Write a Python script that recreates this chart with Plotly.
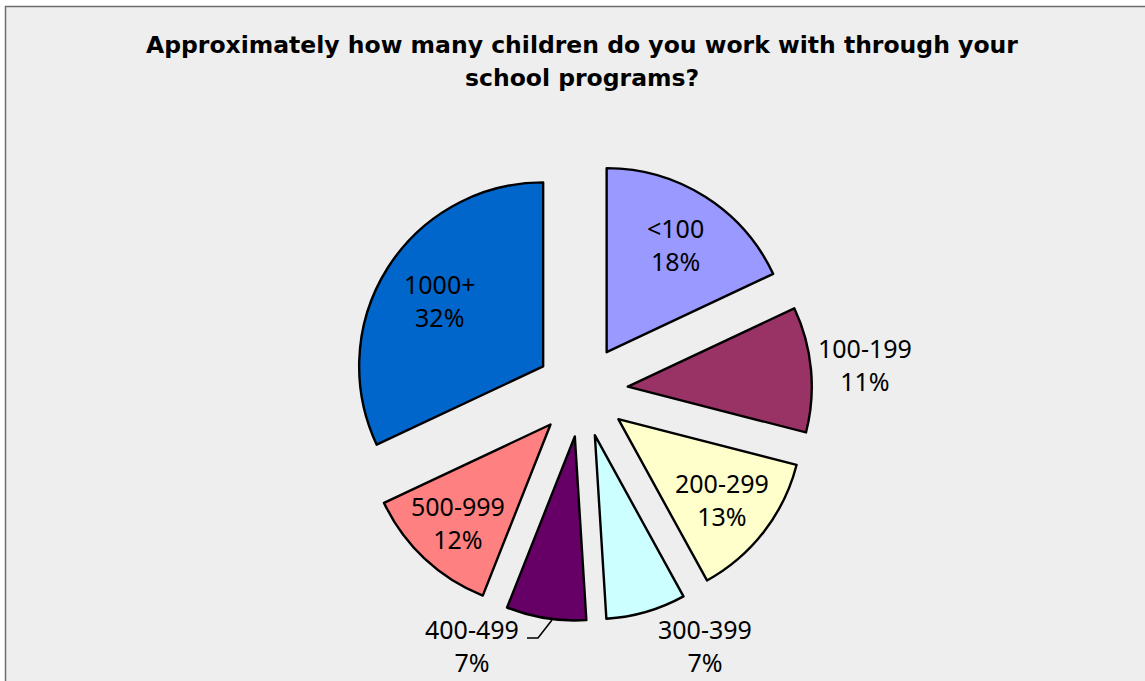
import math
import plotly.graph_objects as go

# Survey results: number of children reached through school programs
categories = ["<100", "100-199", "200-299", "300-399", "400-499", "500-999", "1000+"]
shares = [18, 11, 13, 7, 7, 12, 32]
colors = ["#9999FF", "#993366", "#FFFFCC", "#CCFFFF", "#660066", "#FF8080", "#0066CC"]

W, H = 1145, 681
CX, CY = 582, 391          # pie centre (px)
R = 184                    # pie radius (px)
PULL = 0.25
HALF = R * (1 + PULL)


def px(x):
    return x / W


def py(y):
    return 1 - y / H


fig = go.Figure(
    go.Pie(
        labels=categories,
        values=shares,
        sort=False,
        direction="clockwise",
        rotation=0,
        pull=[PULL] * len(shares),
        marker=dict(colors=colors, line=dict(color="#000000", width=2.4)),
        textinfo="none",
        hoverinfo="label+percent",
        showlegend=False,
        domain=dict(x=[px(CX - HALF), px(CX + HALF)], y=[py(CY + HALF), py(CY - HALF)]),
    )
)

# Label placement: radial distance from the pie centre along the slice's mid angle,
# or a fixed spot for the bottom labels that are shifted sideways.
label_radius = [174, 284, 177, None, None, 181, 168]
label_fixed = {3: (705, 645), 4: (472, 645)}

total = sum(shares)
cum = 0
annotations = []
for i, (cat, v) in enumerate(zip(categories, shares)):
    mid = (cum + v / 2) / total * 2 * math.pi
    cum += v
    if i in label_fixed:
        lx, ly = label_fixed[i]
    else:
        r = label_radius[i]
        lx = CX + r * math.sin(mid)
        ly = CY - r * math.cos(mid)
    pct = round(v / total * 100)
    annotations.append(dict(
        x=px(lx), y=py(ly), xref="paper", yref="paper",
        text=f"{cat.replace('<', '&lt;')}<br>{pct}%",
        showarrow=False, xanchor="center", yanchor="middle",
        font=dict(family="Noto Sans", size=25, color="#000000"),
    ))

title_lines = ["Approximately how many children do you work with through your",
               "school programs?"]
for k, line in enumerate(title_lines):
    annotations.append(dict(
        x=px(582), y=py(45 + 33 * k), xref="paper", yref="paper",
        text=line, showarrow=False, xanchor="center", yanchor="middle",
        font=dict(family="DejaVu Sans", size=23.5, color="#000000", weight="bold"),
    ))

shapes = [
    # chart area panel with its border
    dict(type="rect", xref="paper", yref="paper",
         x0=px(5.5), x1=1.2, y0=-0.2, y1=py(6.5),
         fillcolor="#EEEEEE", line=dict(color="#6E6E6E", width=1.5), layer="below"),
    # leader line for the 400-499 label
    dict(type="path", xref="paper", yref="paper",
         path=f"M {px(527)} {py(638)} L {px(538)} {py(638)} L {px(552)} {py(620)}",
         line=dict(color="#000000", width=1.6)),
]

fig.update_layout(
    width=W, height=H,
    margin=dict(l=0, r=0, t=0, b=0),
    paper_bgcolor="#FFFFFF",
    plot_bgcolor="#EEEEEE",
    annotations=annotations,
    shapes=shapes,
)

fig.write_html("out.html")
